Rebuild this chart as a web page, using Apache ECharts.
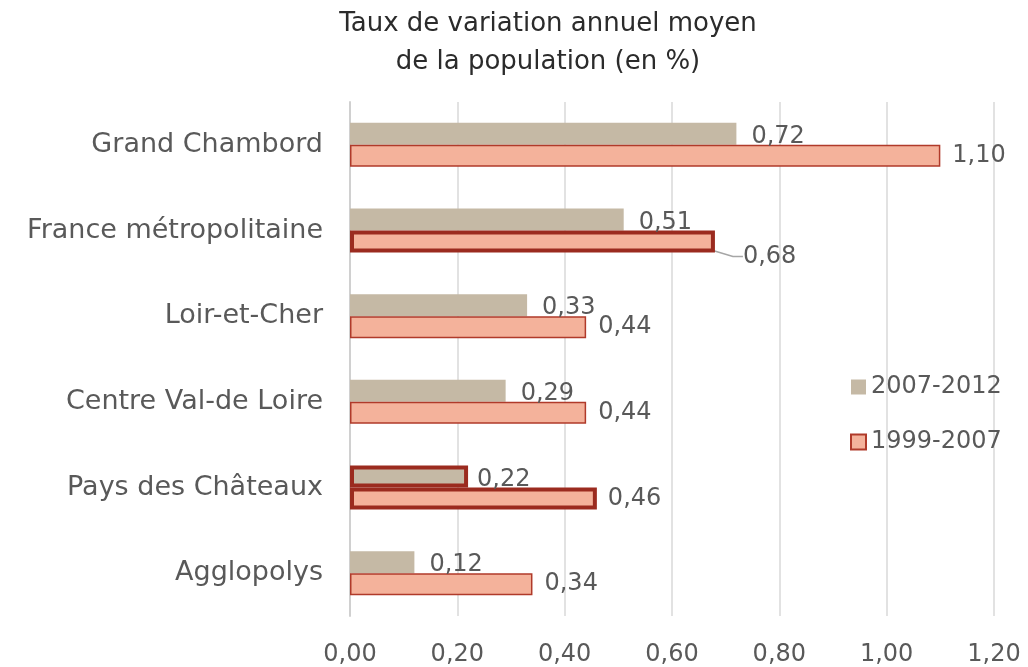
<!DOCTYPE html>
<html>
<head>
<meta charset="utf-8">
<script src="https://cdn.jsdelivr.net/npm/echarts@6/dist/echarts.min.js"></script>
<style>html,body{margin:0;padding:0;background:#fff}#c{width:1028px;height:667px}</style>
</head>
<body>
<div id="c"></div>
<script>
const categories = ['Grand Chambord', 'France métropolitaine', 'Loir-et-Cher', 'Centre Val-de Loire', 'Pays des Châteaux', 'Agglopolys'];
const seriesNames = ['2007-2012', '1999-2007'];
const values20072012 = [0.72, 0.51, 0.33, 0.29, 0.22, 0.12];
const values19992007 = [1.10, 0.68, 0.44, 0.44, 0.46, 0.34];
const xTicks = [0, 0.2, 0.4, 0.6, 0.8, 1.0, 1.2];

const FONT = 'DejaVu Sans';
const TXT = '#595959';
const fmt = v => Number(v).toFixed(2).replace('.', ',');

const thick = { borderColor: '#9B2B1F', borderWidth: 4 };

const chart = echarts.init(document.getElementById('c'), null, { renderer: 'canvas' });
chart.setOption({
  animation: false,
  textStyle: { fontFamily: FONT },
  title: {
    text: 'Taux de variation annuel moyen\nde la population (en %)',
    left: 543, top: 0, textAlign: 'center',
    textStyle: { fontFamily: FONT, fontSize: 26, fontWeight: 'normal', color: '#2b2b2b', lineHeight: 38 }
  },
  legend: {
    orient: 'vertical', left: 845, top: 370, itemWidth: 15, itemHeight: 15, itemGap: 31,
    icon: 'rect',
    data: seriesNames,
    textStyle: { fontFamily: FONT, fontSize: 24, color: TXT, padding: [0, 0, 0, 0] }
  },
  grid: { left: 350, right: 34, top: 102, bottom: 49, containLabel: false },
  xAxis: {
    type: 'value', min: xTicks[0], max: xTicks[xTicks.length - 1], interval: 0.2,
    axisLine: { show: false }, axisTick: { show: false },
    splitLine: { lineStyle: { color: '#d9d9d9', width: 1.5 } },
    axisLabel: { formatter: fmt, fontFamily: FONT, fontSize: 24, color: TXT, margin: 27 }
  },
  yAxis: {
    type: 'category', data: categories, inverse: true,
    axisLine: { lineStyle: { color: '#d0d0d0', width: 2 } }, axisTick: { show: false },
    axisLabel: { fontFamily: FONT, fontSize: 27, color: TXT, margin: 27 }
  },
  series: [
    {
      name: seriesNames[0], type: 'bar', barWidth: 22, barGap: '0%',
      itemStyle: { color: '#C5B9A5' },
      data: values20072012.map((v, i) => i === 4 ? { value: v, itemStyle: thick, label: { distance: 9 } } : v),
      label: { show: true, position: 'right', distance: 15, offset: [0, 3], formatter: p => fmt(p.value), fontFamily: FONT, fontSize: 24, color: TXT }
    },
    {
      name: seriesNames[1], type: 'bar', barWidth: 22, barGap: '0%',
      itemStyle: { color: '#F4B29B', borderColor: '#B03A2A', borderWidth: 1.5 },
      data: values19992007.map((v, i) => {
        if (i === 1) return { value: v, itemStyle: thick, labelLine: { show: true } };
        if (i === 4) return { value: v, itemStyle: thick, label: { distance: 11 } };
        return v;
      }),
      label: { show: true, position: 'right', distance: 12, offset: [0, 3], formatter: p => fmt(p.value), fontFamily: FONT, fontSize: 24, color: TXT },
      labelLine: { show: false, length2: 10, lineStyle: { color: '#a6a6a6', width: 1.5 } },
      labelLayout: p => p.dataIndex === 1 ? { dx: 16, dy: 15 } : {}
    }
  ]
});
</script>
</body>
</html>
